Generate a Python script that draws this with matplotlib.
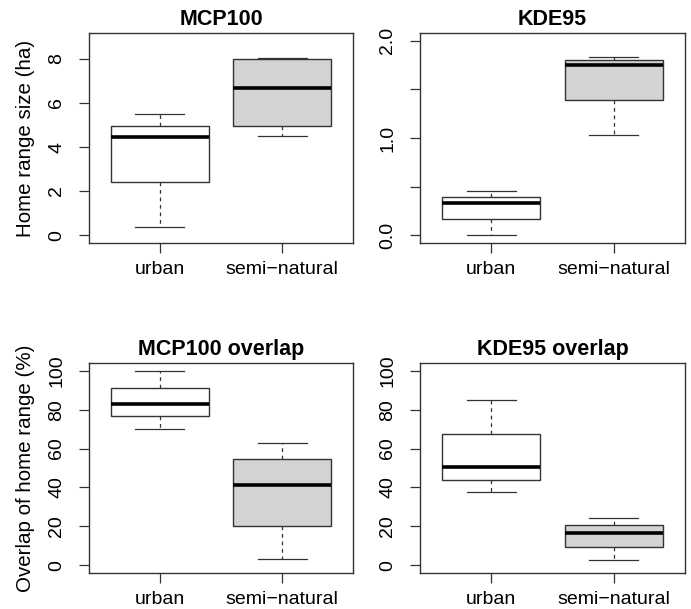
import matplotlib
matplotlib.use('Agg')
import matplotlib.pyplot as plt

plt.rcParams['font.family'] = ['Liberation Sans', 'DejaVu Sans']

groups = ['urban', 'semi\u2212natural']
fills = ['white', '#D3D3D3']

# five-number summaries: low whisker, Q1, median, Q3, high whisker
mcp100 = [[0.38, 2.39, 4.44, 4.95, 5.5], [4.48, 4.95, 6.67, 7.98, 8.03]]
kde95 = [[0.007, 0.166, 0.329, 0.394, 0.453], [1.028, 1.391, 1.754, 1.80, 1.83]]
mcp100_overlap = [[69.9, 76.5, 83.0, 91.2, 99.7], [3.4, 20.4, 41.4, 54.5, 63.1]]
kde95_overlap = [[37.6, 44.0, 50.7, 67.7, 84.9], [2.9, 9.6, 16.8, 20.6, 24.2]]

panels = [
    ('MCP100', mcp100, [0, 2, 4, 6, 8], ['0', '2', '4', '6', '8'], (-0.36, 9.18), 'Home range size (ha)'),
    ('KDE95', kde95, [0, 0.5, 1.0, 1.5, 2.0], ['0.0', '', '1.0', '', '2.0'], (-0.08, 2.08), None),
    ('MCP100 overlap', mcp100_overlap, [0, 20, 40, 60, 80, 100],
     ['0', '20', '40', '60', '80', '100'], (-4, 104), 'Overlap of home range (%)'),
    ('KDE95 overlap', kde95_overlap, [0, 20, 40, 60, 80, 100],
     ['0', '20', '40', '60', '80', '100'], (-4, 104), None),
]

W, H = 691, 609
fig = plt.figure(figsize=(W / 100, H / 100), dpi=100)
boxes_px = [(89, 353, 33, 243), (420, 685, 33, 243), (89, 353, 363, 573), (420, 685, 363, 573)]

edge = '#333333'
for (title, summ, yt, ytl, ylim, ylab), (l, r, t, b) in zip(panels, boxes_px):
    ax = fig.add_axes([l / W, 1 - b / H, (r - l) / W, (b - t) / H])
    stats = []
    for g, s in zip(groups, summ):
        stats.append(dict(label=g, whislo=s[0], q1=s[1], med=s[2], q3=s[3], whishi=s[4], fliers=[]))
    bp = ax.bxp(stats, positions=[1, 2], widths=0.8, patch_artist=True, showfliers=False,
                boxprops=dict(edgecolor=edge, linewidth=1.0),
                medianprops=dict(color='black', linewidth=2.6, solid_capstyle='butt'),
                whiskerprops=dict(color=edge, linewidth=0.9, linestyle=(0, (3, 3))),
                capprops=dict(color=edge, linewidth=0.9), capwidths=0.4)
    for patch, fc in zip(bp['boxes'], fills):
        patch.set_facecolor(fc)
    ax.set_xlim(0.42, 2.58)
    ax.set_ylim(*ylim)
    ax.set_yticks(yt)
    ax.set_yticklabels(ytl)
    ax.set_xticks([1, 2])
    ax.set_xticklabels(groups)
    ax.tick_params(axis='both', direction='out', length=7, width=0.9, color=edge,
                   labelsize=14, colors='black')
    ax.tick_params(axis='x', pad=6)
    ax.tick_params(axis='y', pad=10)
    for lab in ax.get_yticklabels():
        lab.set_rotation(90)
        lab.set_va('center')
    for sp in ax.spines.values():
        sp.set_color(edge)
        sp.set_linewidth(1.0)
    ax.set_title(title, fontsize=15.5, fontweight='bold', pad=6)
    if ylab:
        ax.set_ylabel(ylab, fontsize=14.8)
        ax.yaxis.set_label_coords((35 - l) / (r - l), 0.5)

fig.savefig('out.png', dpi=100)
